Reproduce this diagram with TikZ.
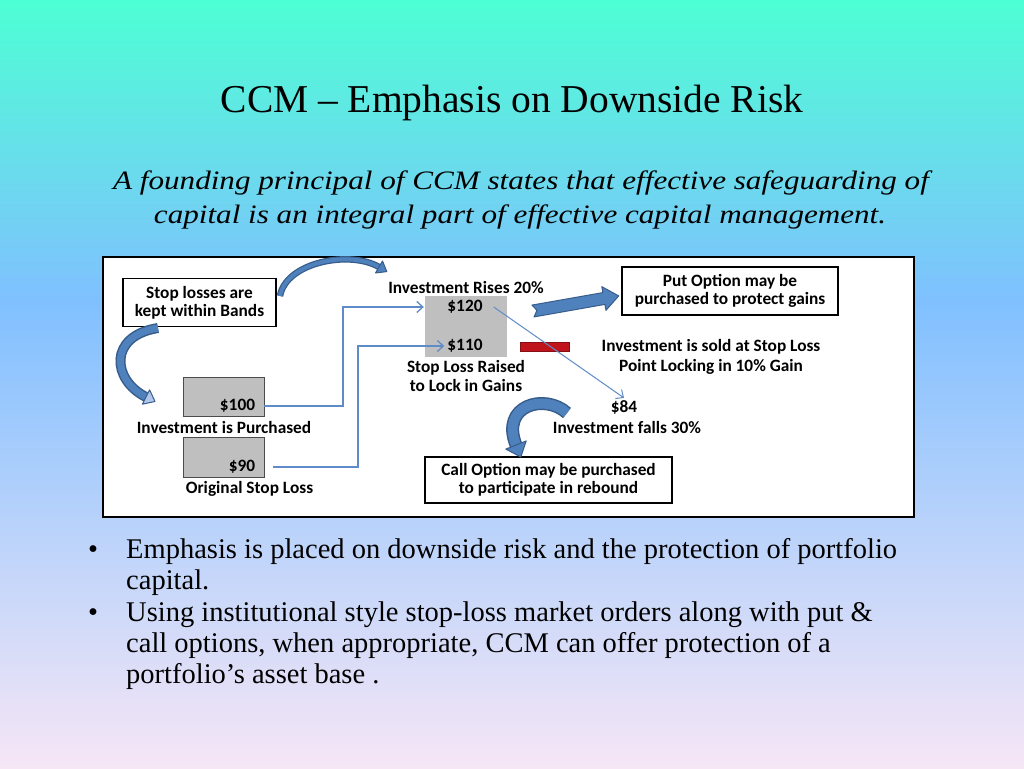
\documentclass[tikz,border=0pt]{standalone}
\usepackage{fontspec}
\setmainfont{Liberation Serif}
\newfontfamily\subfont{Liberation Serif}[FakeStretch=1.17]
\newfontfamily\diafont{Carlito}
\usetikzlibrary{arrows.meta,calc}
\definecolor{bgtop}{RGB}{77,255,212}
\definecolor{bgmid}{RGB}{128,192,255}
\definecolor{bgbot}{RGB}{246,230,246}
\definecolor{fblue}{RGB}{79,129,189}
\definecolor{dblue}{RGB}{56,93,138}
\definecolor{hblue}{RGB}{175,198,232}
\definecolor{cblue}{RGB}{95,140,200}
\definecolor{gboxc}{RGB}{191,191,191}
\definecolor{rbar}{RGB}{192,20,28}
\tikzset{
  slidetitle/.style={anchor=base, inner sep=0pt, font=\fontsize{39.5}{39.5}\selectfont},
  slidesub/.style={anchor=base, inner sep=0pt, font=\subfont\itshape\fontsize{26.6}{26.6}\selectfont},
  slidebody/.style={anchor=base west, inner sep=0pt, font=\fontsize{28.5}{28.5}\selectfont},
  dtext/.style={inner sep=0pt, font=\diafont\bfseries\fontsize{17.3}{17.3}\selectfont},
  dbase/.style={dtext, anchor=base},
  dbox/.style={draw=black, line width=1.2pt, fill=white, align=center, inner sep=0pt,
    font=\diafont\bfseries\fontsize{17.3}{18}\selectfont},
  graybox/.style={draw=black!70, line width=0.9pt, fill=gboxc, inner sep=0pt},
  conn/.style={draw=cblue, line width=1.3pt, -{Straight Barb[length=6pt,width=11pt]}},
  bandout/.style={draw=dblue, line cap=butt},
  bandin/.style={draw=fblue, line cap=butt},
  headshape/.style={fill=fblue, draw=dblue, line width=1pt, line join=round},
}
\begin{document}
\begin{tikzpicture}[x=1pt,y=-1pt]
\useasboundingbox (0,0) rectangle (1024,768);
\shade[top color=bgtop, bottom color=bgmid] (0,0) rectangle (1024,301);
\shade[top color=bgmid, bottom color=bgbot] (0,300) rectangle (1024,768);

% slide texts
\node[slidetitle] (title) at (512,112) {CCM – Emphasis on Downside Risk};
\node[slidesub] (sub1) at (521,189) {A founding principal of CCM states that effective safeguarding of};
\node[slidesub] (sub2) at (520,223) {capital is an integral part of effective capital management.};

% diagram frame
\node[draw=black, line width=2.2pt, fill=white, minimum width=811, minimum height=260, inner sep=0pt] (frame) at (508.5,387) {};

% gray boxes
\node[graybox, minimum width=81, minimum height=39] (gb1) at (223.5,396.5) {};
\node[graybox, minimum width=81, minimum height=40] (gb2) at (223.5,457) {};
\node[fill=gboxc, minimum width=82, minimum height=61, inner sep=0pt] (gb3) at (466,326.5) {};
\node[fill=rbar, draw=rbar!70!black, line width=0.6pt, minimum width=49, minimum height=9, inner sep=0pt] (bar) at (544.5,347) {};

% text boxes
\node[dbox, minimum width=153, minimum height=48] (stopbox) at (199.5,302.5) {Stop losses are\\kept within Bands};
\node[dbox, minimum width=216, minimum height=48] (putbox) at (730,291) {Put Option may be\\purchased to protect gains};
\node[dbox, minimum width=247, minimum height=46] (callbox) at (548.5,480) {Call Option may be purchased\\to participate in rebound};

% diagram labels
\node[dtext] (t100) at (237.5,406) {\$100};
\node[dtext] (t90) at (242,467) {\$90};
\node[dtext] (t120) at (465,307) {\$120};
\node[dtext] (t110) at (465,346) {\$110};
\node[dtext] (t84) at (624,407) {\$84};
\node[dbase] (purch) at (224,433) {Investment is Purchased};
\node[dbase] (orig) at (249.5,493) {Original Stop Loss};
\node[dbase] (rises) at (466,293) {Investment Rises 20\%};
\node[dtext, align=center, font=\diafont\bfseries\fontsize{17.3}{19.5}\selectfont] (raised) at (466,376) {Stop Loss Raised\\to Lock in Gains};
\node[dtext, align=center, font=\diafont\bfseries\fontsize{17.3}{20}\selectfont] (sold) at (711,357) {Investment is sold at Stop Loss\\Point Locking in 10\% Gain};
\node[dbase] (falls) at (627,433) {Investment falls 30\%};

% connectors
\coordinate (v1) at (343,0);
\coordinate (v2) at (358,0);
\draw[conn] (gb1.east |- t100) -- (v1 |- t100) -- (v1 |- t120) -- ([xshift=-1pt]gb3.west |- t120);
\draw[conn] ([xshift=9pt]gb2.east |- t90) -- (v2 |- t90) -- (v2 |- t110) -- ([xshift=-3pt]t110.west);
\draw[conn, line width=1pt] ([xshift=11pt]t120.east) -- ([yshift=2pt]t84.north);

% straight block arrow to put option box
\begin{scope}[shift={(533,311)}, rotate=10]
  \path[headshape] (0,-6) -- (72,-6) -- (72,-12) -- (87,0) -- (72,12) -- (72,6) -- (0,6) -- (4,0) -- cycle;
\end{scope}

% curved arrow: stop box -> investment rises
\draw[bandout, line width=6.5pt] (280,296) .. controls (286,262) and (350,250) .. (379,267);
\draw[bandin, line width=4pt] (280,296) .. controls (286,262) and (350,250) .. (379,267);
\path[headshape] (382.5,261) -- (386.8,271.6) -- (375.5,273) -- cycle;

% curved arrow: stop box -> investment purchased
\draw[bandout, line width=10pt] (158,328) .. controls (108,336) and (112,380) .. (146,397);
\draw[bandin, line width=7pt] (158,328) .. controls (108,336) and (112,380) .. (146,397);
\path[headshape, fill=hblue] (149.6,389.8) -- (155,401.5) -- (142.4,404.2) -- cycle;

% curved arrow: towards call option box
\draw[bandout, line width=13pt] (567,413) .. controls (545,393) and (500,405) .. (516,445);
\draw[bandin, line width=10pt] (567,413) .. controls (545,393) and (500,405) .. (516,445);
\path[headshape] (526.2,440.9) -- (520.8,457) -- (505.8,449.1) -- cycle;

% bullets
\node[slidebody, anchor=base] (b1) at (93,558) {•};
\node[slidebody, anchor=base] (b2) at (93,621) {•};
\node[slidebody] (l1) at (126,558) {Emphasis is placed on downside risk and the protection of portfolio};
\node[slidebody] (l2) at (126,589) {capital.};
\node[slidebody] (l3) at (126,621) {Using institutional style stop-loss market orders along with put \&};
\node[slidebody] (l4) at (126,652) {call options, when appropriate, CCM can offer protection of a};
\node[slidebody] (l5) at (126,683) {portfolio’s asset base .};
\end{tikzpicture}
\end{document}
